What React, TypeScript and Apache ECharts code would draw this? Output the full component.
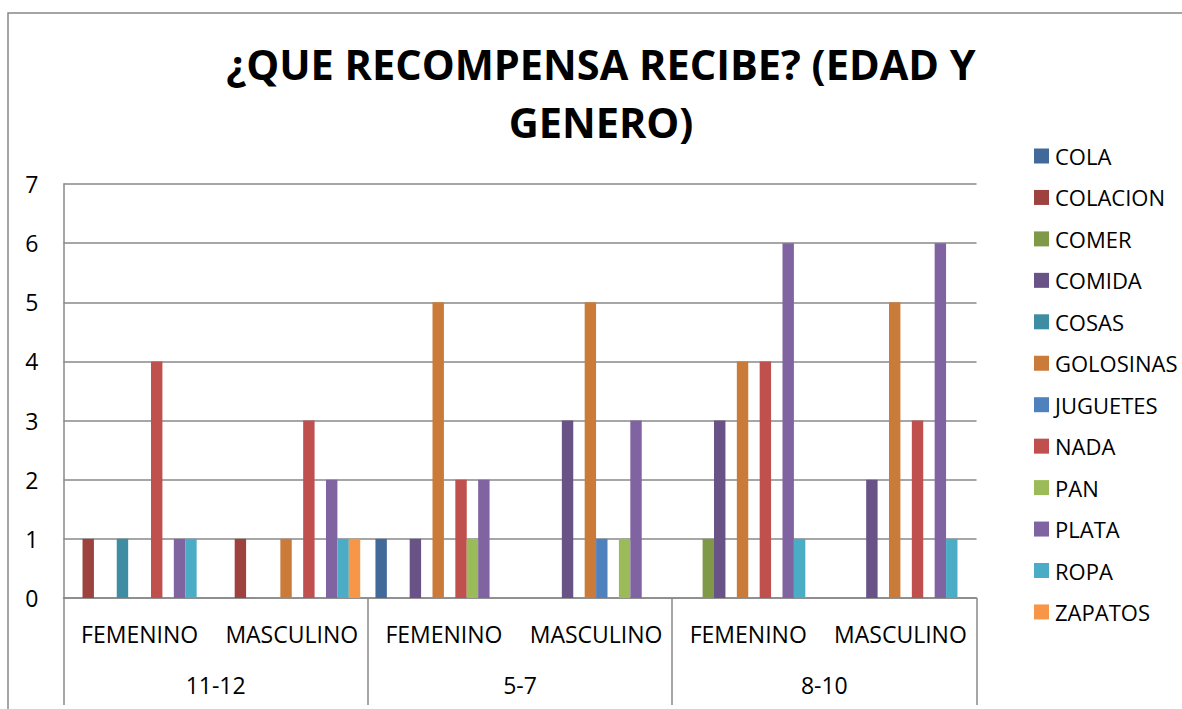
import React, { useEffect, useRef } from "react";
import * as echarts from "echarts";

const categories = ["FEMENINO", "MASCULINO", "FEMENINO", "MASCULINO", "FEMENINO", "MASCULINO"];
const ageGroups = ["11-12", "5-7", "8-10"];
const yTicks = [0, 1, 2, 3, 4, 5, 6, 7];

const seriesNames = [
  "COLA", "COLACION", "COMER", "COMIDA", "COSAS", "GOLOSINAS",
  "JUGUETES", "NADA", "PAN", "PLATA", "ROPA", "ZAPATOS",
];
const cola = [0, 0, 1, 0, 0, 0];
const colacion = [1, 1, 0, 0, 0, 0];
const comer = [0, 0, 0, 0, 1, 0];
const comida = [0, 0, 1, 3, 3, 2];
const cosas = [1, 0, 0, 0, 0, 0];
const golosinas = [0, 1, 5, 5, 4, 5];
const juguetes = [0, 0, 0, 1, 0, 0];
const nada = [4, 3, 2, 0, 4, 3];
const pan = [0, 0, 1, 1, 0, 0];
const plata = [1, 2, 2, 3, 6, 6];
const ropa = [1, 1, 0, 0, 1, 1];
const zapatos = [0, 1, 0, 0, 0, 0];
const seriesValues = [cola, colacion, comer, comida, cosas, golosinas, juguetes, nada, pan, plata, ropa, zapatos];

const colors = [
  "#416A9B", "#9D423F", "#7F9949", "#695285", "#3E8DA3", "#CB7B39",
  "#4F81BD", "#C0504D", "#9BBB59", "#8064A2", "#4BACC6", "#F79646",
];

const FONT = "'Open Sans', sans-serif";
const GRAY = "#888888";

export default function App() {
  const ref = useRef<HTMLDivElement>(null);
  useEffect(() => {
    if (!ref.current) return;
    const chart = echarts.init(ref.current, undefined, { renderer: "svg" });
    chart.setOption({
      animation: false,
      backgroundColor: "#ffffff",
      color: colors,
      textStyle: { fontFamily: FONT },
      title: {
        text: "¿QUE RECOMPENSA RECIBE? (EDAD Y\nGENERO)",
        left: 601,
        top: 35,
        textAlign: "center",
        padding: 0,
        textStyle: {
          fontFamily: FONT,
          fontWeight: "bold",
          fontSize: 41.5,
          lineHeight: 58,
          color: "#000",
        },
      },
      graphic: [
        {
          type: "rect",
          silent: true,
          z: -1,
          shape: { x: 8, y: 13, width: 1400, height: 900 },
          style: { fill: "none", stroke: GRAY, lineWidth: 1.5 },
        },
      ],
      legend: {
        orient: "vertical",
        left: 1034,
        top: 144,
        padding: 0,
        itemWidth: 15,
        itemHeight: 15,
        itemGap: 17.45,
        icon: "rect",
        data: seriesNames,
        textStyle: { fontFamily: FONT, fontSize: 22, lineHeight: 24, color: "#000", padding: [0, 0, 0, 1] },
      },
      grid: { left: 63.5, top: 184, right: 205.5, bottom: 111, containLabel: false },
      xAxis: [
        {
          type: "category",
          data: categories,
          position: "bottom",
          axisLine: { show: true, lineStyle: { color: GRAY, width: 1.5 } },
          axisTick: { show: false },
          axisLabel: { interval: 0, margin: 24, fontSize: 23, color: "#000", fontFamily: FONT },
        },
        {
          type: "category",
          data: ageGroups,
          position: "bottom",
          gridIndex: 0,
          axisLine: { show: false },
          axisTick: { show: true, length: 107, interval: 0, lineStyle: { color: GRAY, width: 1.5 } },
          axisLabel: { interval: 0, margin: 75, fontSize: 23, color: "#000", fontFamily: FONT },
        },
      ],
      yAxis: {
        type: "value",
        min: yTicks[0],
        max: yTicks[yTicks.length - 1],
        interval: 1,
        axisLine: { show: true, lineStyle: { color: GRAY, width: 1.5 } },
        axisTick: { show: false },
        splitLine: { show: true, lineStyle: { color: GRAY, width: 1.5 } },
        axisLabel: { margin: 25, fontSize: 23, color: "#000", fontFamily: FONT },
      },
      series: seriesNames.map((name, i) => ({
        name,
        type: "bar",
        xAxisIndex: 0,
        data: seriesValues[i],
        barGap: "0%",
        barCategoryGap: "10%",
      })),
    });
    return () => chart.dispose();
  }, []);
  return <div ref={ref} style={{ position: "fixed", left: 0, top: 0, width: 1182, height: 709 }} />;
}
